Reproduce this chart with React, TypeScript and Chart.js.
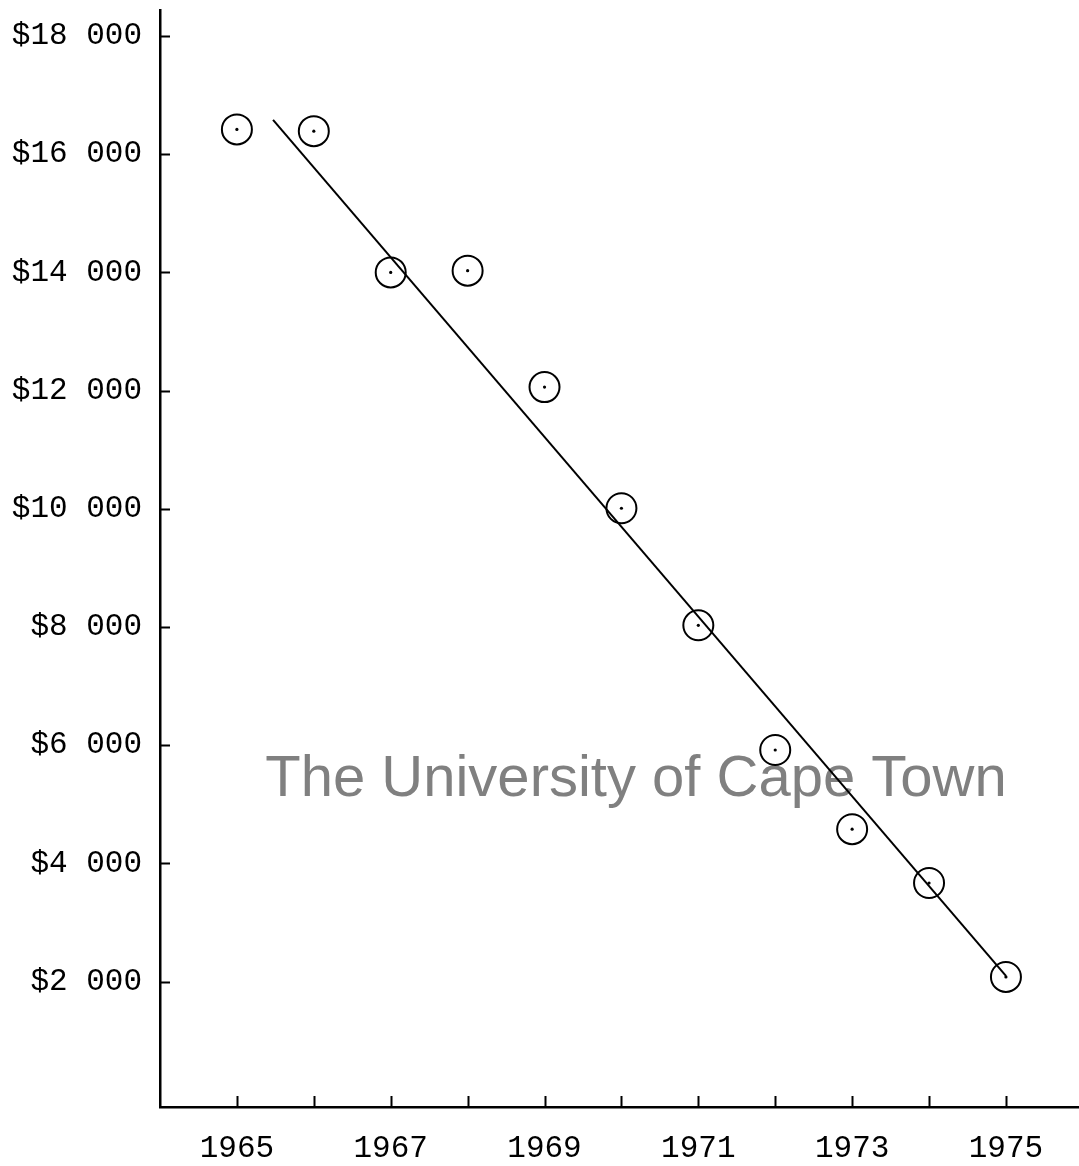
import React, { useEffect, useRef } from "react";
import { Chart, registerables } from "chart.js";

Chart.register(...registerables);

// Data
const years: number[] = [1965, 1966, 1967, 1968, 1969, 1970, 1971, 1972, 1973, 1974, 1975];
const values: number[] = [16420, 16390, 14000, 14030, 12060, 10010, 8030, 5920, 4580, 3670, 2080];
const trendYears: number[] = [1965.47, 1975];
const trendValues: number[] = [16580, 2100];
const yTickValues: number[] = [2000, 4000, 6000, 8000, 10000, 12000, 14000, 16000, 18000];
const xTickYears: number[] = [1965, 1966, 1967, 1968, 1969, 1970, 1971, 1972, 1973, 1974, 1975];
const xLabelYears: number[] = [1965, 1967, 1969, 1971, 1973, 1975];
const watermark = "The University of Cape Town";

const W = 1079;
const H = 1166;

const zeroPad = () => ({ left: 0, top: 0, right: 0, bottom: 0 });

export default function App() {
  const ref = useRef<HTMLCanvasElement | null>(null);

  useEffect(() => {
    if (!ref.current) return;
    const pts = years.map((x, i) => ({ x, y: values[i] }));
    const trend = trendYears.map((x, i) => ({ x, y: trendValues[i] }));

    const inwardTicks = {
      id: "inwardTicks",
      beforeDatasetsDraw(chart: any) {
        const ctx = chart.ctx;
        const xs = chart.scales.x;
        const ys = chart.scales.y;
        const ca = chart.chartArea;
        ctx.save();
        // watermark
        ctx.fillStyle = "#808080";
        ctx.font = '58px "Liberation Sans", Arial, sans-serif';
        ctx.textAlign = "center";
        ctx.textBaseline = "alphabetic";
        ctx.fillText(watermark, 636, 796);
        // ticks
        ctx.strokeStyle = "#000";
        ctx.lineWidth = 2;
        ctx.beginPath();
        yTickValues.forEach((v) => {
          const py = Math.round(ys.getPixelForValue(v)) + 0.5;
          ctx.moveTo(ca.left, py);
          ctx.lineTo(ca.left + 10, py);
        });
        xTickYears.forEach((v) => {
          const px = Math.round(xs.getPixelForValue(v)) + 0.5;
          ctx.moveTo(px, ca.bottom);
          ctx.lineTo(px, ca.bottom - 11);
        });
        ctx.stroke();
        ctx.restore();
      },
    };

    const chart = new Chart(ref.current, {
      type: "scatter",
      data: {
        datasets: [
          {
            type: "line",
            data: trend,
            borderColor: "#000",
            borderWidth: 2,
            pointRadius: 0,
            fill: false,
          } as any,
          {
            data: pts,
            pointStyle: "circle",
            pointRadius: 15,
            pointBorderWidth: 2,
            pointBorderColor: "#000",
            pointBackgroundColor: "rgba(0,0,0,0)",
          } as any,
          {
            data: pts,
            pointStyle: "circle",
            pointRadius: 1.6,
            pointBorderWidth: 0,
            pointBackgroundColor: "#000",
          } as any,
        ],
      },
      options: {
        responsive: false,
        animation: false,
        events: [],
        layout: { autoPadding: false, padding: { top: 10, right: 0, left: 0, bottom: 0 } },
        plugins: {
          legend: { display: false },
          tooltip: { enabled: false },
        },
        scales: {
          x: {
            type: "linear",
            min: 1964,
            max: 1975.95,
            grid: { display: false, drawTicks: false },
            border: { display: true, color: "#000", width: 2.5 },
            afterBuildTicks: (scale: any) => {
              scale.ticks = xLabelYears.map((v) => ({ value: v }));
            },
            afterFit: (scale: any) => {
              scale.height = H - 1107;
              scale.paddingLeft = 0;
              scale.paddingRight = 0;
              scale.paddingTop = 0;
              scale.paddingBottom = 0;
              scale.getPadding = zeroPad;
            },
            ticks: {
              autoSkip: false,
              maxRotation: 0,
              padding: 23,
              color: "#000",
              font: { family: '"Liberation Mono", monospace', size: 31 },
              callback: (v: any) => String(v),
            },
          },
          y: {
            type: "linear",
            min: -120,
            max: 18440,
            grid: { display: false, drawTicks: false },
            border: { display: true, color: "#000", width: 2.5 },
            afterBuildTicks: (scale: any) => {
              scale.ticks = yTickValues.map((v) => ({ value: v }));
            },
            afterFit: (scale: any) => {
              scale.width = 160;
              scale.paddingLeft = 0;
              scale.paddingRight = 0;
              scale.paddingTop = 0;
              scale.paddingBottom = 0;
              scale.getPadding = zeroPad;
            },
            ticks: {
              autoSkip: false,
              padding: 18,
              color: "#000",
              font: { family: '"Liberation Mono", monospace', size: 31 },
              callback: (v: any) => "$" + Number(v) / 1000 + " 000",
            },
          },
        },
      },
      plugins: [inwardTicks],
    } as any);

    return () => chart.destroy();
  }, []);

  return (
    <div style={{ position: "absolute", left: 0, top: 0, width: W, height: H, background: "#fff" }}>
      <canvas ref={ref} width={W} height={H} style={{ display: "block" }} />
    </div>
  );
}
